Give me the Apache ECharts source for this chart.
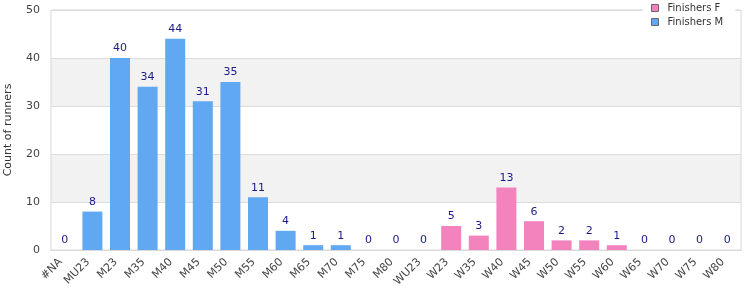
<!DOCTYPE html>
<html>
<head>
<meta charset="utf-8">
<script src="https://cdn.jsdelivr.net/npm/echarts@6/dist/echarts.min.js"></script>
<style>
  html, body { margin: 0; padding: 0; background: #fff; }
  #chart { width: 750px; height: 300px; }
</style>
</head>
<body>
<div id="chart"></div>
<script>
var categories = ['#NA', 'MU23', 'M23', 'M35', 'M40', 'M45', 'M50', 'M55', 'M60', 'M65', 'M70', 'M75', 'M80',
  'WU23', 'W23', 'W35', 'W40', 'W45', 'W50', 'W55', 'W60', 'W65', 'W70', 'W75', 'W80'];
// men's counts, '-' where the category belongs to women
var finishersM = [0, 8, 40, 34, 44, 31, 35, 11, 4, 1, 1, 0, 0, 0,
  '-', '-', '-', '-', '-', '-', '-', '-', '-', '-', '-'];
var finishersF = ['-', '-', '-', '-', '-', '-', '-', '-', '-', '-', '-', '-', '-', '-',
  5, 3, 13, 6, 2, 2, 1, 0, 0, 0, 0];
// shaded background bands (y ranges)
var bands = [[10, 20], [30, 40]];

var FONT = 'DejaVu Sans';
var myChart = echarts.init(document.getElementById('chart'));

function barSeries(name, data, color) {
  return {
    name: name,
    type: 'bar',
    data: data,
    barWidth: 20,
    barGap: '-100%',
    itemStyle: { color: color },
    label: {
      show: true,
      position: 'top',
      distance: 4,
      color: '#1a1a8a',
      fontFamily: FONT,
      fontSize: 11
    }
  }
}

var seriesM = barSeries('Finishers M', finishersM, '#60a8f2');
seriesM.markArea = {
  silent: true,
  z: -1,
  itemStyle: { color: '#f2f2f2' },
  data: bands.map(function (b) {
    return [{ yAxis: b[0] }, { yAxis: b[1] }]
  })
};

var option = {
  animation: false,
  textStyle: { fontFamily: FONT },
  grid: {
    left: 51,
    right: 9,
    top: 10,
    bottom: 50,
    outerBoundsMode: 'none',
    containLabel: false,
    show: true,
    borderColor: '#d9d9d9',
    borderWidth: 1
  },
  legend: {
    left: 643,
    top: 0,
    orient: 'vertical',
    icon: 'rect',
    itemWidth: 7,
    itemHeight: 7,
    itemGap: 4,
    padding: [3, 12, 6, 8],
    backgroundColor: '#fff',
    textStyle: { color: '#333', fontSize: 10, fontFamily: FONT, padding: [0, 0, 0, 4] },
    data: [
      { name: 'Finishers F', itemStyle: { borderColor: '#666', borderWidth: 1 } },
      { name: 'Finishers M', itemStyle: { borderColor: '#666', borderWidth: 1 } }
    ]
  },
  xAxis: {
    type: 'category',
    data: categories,
    axisLine: { lineStyle: { color: '#d9d9d9' } },
    axisTick: { show: false },
    axisLabel: {
      rotate: 45,
      interval: 0,
      color: '#444',
      fontSize: 11,
      fontFamily: FONT,
      margin: 6,
      padding: [0, 6, 0, 0]
    }
  },
  yAxis: {
    type: 'value',
    min: 0,
    max: 50,
    interval: 10,
    name: 'Count of runners',
    nameLocation: 'middle',
    nameGap: 37,
    nameTextStyle: { color: '#333', fontSize: 11, fontFamily: FONT },
    axisLine: { show: false },
    axisTick: { show: false },
    axisLabel: { color: '#444', fontSize: 11, fontFamily: FONT, margin: 11 },
    splitLine: { lineStyle: { color: '#dcdcdc' } },
    splitArea: { show: false }
  },
  series: [
    seriesM,
    barSeries('Finishers F', finishersF, '#f283bc')
  ]
};
myChart.setOption(option);
</script>
</body>
</html>
